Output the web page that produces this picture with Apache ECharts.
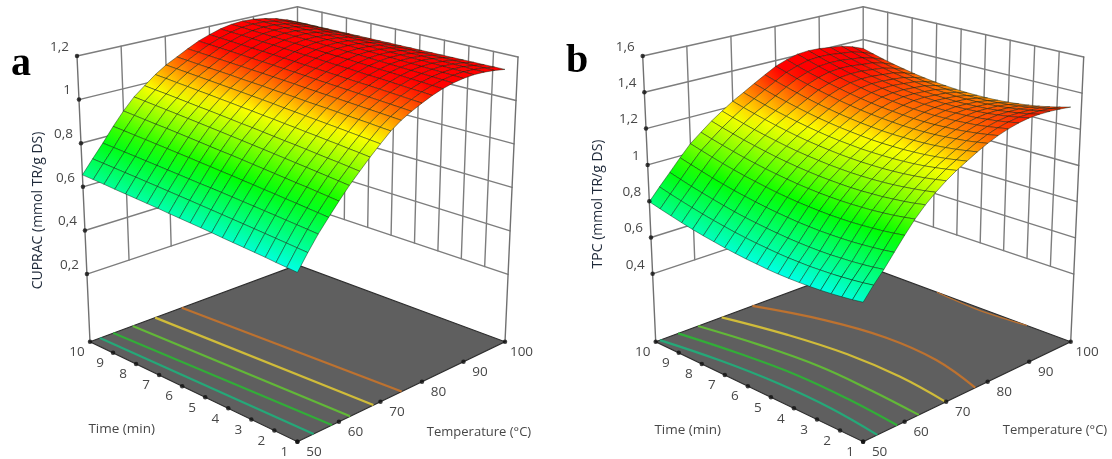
<!DOCTYPE html>
<html><head><meta charset="utf-8">
<style>html,body{margin:0;padding:0;background:#fff}#c{width:1112px;height:459px}</style>
<script src="https://cdn.jsdelivr.net/npm/echarts@6/dist/echarts.min.js"></script>
</head><body><div id="c"></div>
<script>
// ---------- data ----------
const meshTemps = [50,52.5,55,57.5,60,62.5,65,67.5,70,72.5,75,77.5,80,82.5,85,87.5,90,92.5,95,97.5,100];
const meshTimes = [1,1.45,1.9,2.35,2.8,3.25,3.7,4.15,4.6,5.05,5.5,5.95,6.4,6.85,7.3,7.75,8.2,8.65,9.1,9.55,10];
// one list per temperature, each running over meshTimes
const cupracByTemp = [
[.571,.575,.579,.584,.588,.592,.596,.600,.605,.609,.613,.617,.621,.626,.630,.634,.638,.642,.647,.651,.655],
[.635,.639,.643,.647,.651,.655,.659,.663,.667,.671,.675,.679,.683,.687,.691,.695,.699,.703,.707,.711,.715],
[.695,.699,.703,.707,.711,.715,.719,.723,.727,.731,.735,.738,.742,.746,.750,.754,.758,.762,.766,.770,.774],
[.748,.753,.757,.762,.766,.771,.775,.780,.784,.789,.793,.798,.802,.807,.811,.816,.820,.825,.829,.834,.838],
[.800,.805,.810,.815,.819,.824,.829,.834,.839,.844,.849,.853,.858,.863,.868,.873,.878,.882,.887,.892,.897],
[.850,.855,.860,.865,.870,.875,.880,.885,.890,.895,.900,.905,.910,.915,.920,.925,.930,.935,.940,.945,.950],
[.895,.900,.905,.909,.914,.919,.924,.928,.933,.938,.943,.947,.952,.957,.962,.966,.971,.976,.981,.985,.990],
[.940,.945,.949,.954,.958,.963,.967,.972,.976,.981,.985,.990,.994,.999,1.003,1.008,1.012,1.017,1.021,1.026,1.030],
[.982,.986,.990,.994,.998,1.002,1.006,1.010,1.014,1.018,1.023,1.027,1.031,1.035,1.039,1.043,1.047,1.051,1.055,1.059,1.063],
[1.023,1.026,1.030,1.033,1.036,1.040,1.043,1.046,1.049,1.053,1.056,1.059,1.063,1.066,1.069,1.073,1.076,1.079,1.082,1.086,1.089],
[1.055,1.058,1.061,1.064,1.067,1.070,1.073,1.076,1.079,1.082,1.086,1.089,1.092,1.095,1.098,1.101,1.104,1.107,1.110,1.113,1.116],
[1.080,1.083,1.086,1.089,1.092,1.095,1.098,1.101,1.104,1.107,1.111,1.114,1.117,1.120,1.123,1.126,1.129,1.132,1.135,1.138,1.141],
[1.102,1.105,1.108,1.111,1.114,1.117,1.119,1.122,1.125,1.128,1.131,1.134,1.137,1.140,1.143,1.146,1.148,1.151,1.154,1.157,1.160],
[1.122,1.125,1.127,1.130,1.133,1.136,1.138,1.141,1.144,1.146,1.149,1.152,1.154,1.157,1.160,1.163,1.165,1.168,1.171,1.173,1.176],
[1.138,1.140,1.143,1.145,1.148,1.150,1.152,1.155,1.157,1.160,1.162,1.164,1.167,1.169,1.172,1.174,1.176,1.179,1.181,1.184,1.186],
[1.150,1.152,1.154,1.156,1.158,1.160,1.162,1.164,1.166,1.168,1.170,1.172,1.174,1.176,1.178,1.180,1.182,1.184,1.186,1.188,1.190],
[1.157,1.159,1.160,1.162,1.163,1.165,1.166,1.168,1.169,1.171,1.172,1.174,1.175,1.177,1.178,1.180,1.181,1.183,1.184,1.186,1.187],
[1.160,1.161,1.162,1.163,1.164,1.165,1.165,1.166,1.167,1.168,1.169,1.170,1.171,1.172,1.173,1.174,1.174,1.175,1.176,1.177,1.178],
[1.158,1.158,1.159,1.159,1.159,1.160,1.160,1.160,1.161,1.161,1.162,1.162,1.162,1.163,1.163,1.163,1.164,1.164,1.164,1.165,1.165],
[1.152,1.152,1.151,1.151,1.151,1.151,1.150,1.150,1.150,1.149,1.149,1.149,1.148,1.148,1.148,1.148,1.147,1.147,1.147,1.146,1.146],
[1.143,1.142,1.141,1.140,1.139,1.138,1.137,1.136,1.135,1.134,1.133,1.132,1.131,1.130,1.129,1.128,1.127,1.126,1.125,1.124,1.123]
];
const tpcByTemp = [
[.700,.692,.686,.681,.677,.675,.674,.674,.675,.678,.683,.688,.695,.703,.713,.723,.735,.749,.764,.780,.797],
[.763,.755,.749,.744,.740,.738,.736,.737,.738,.741,.746,.751,.758,.766,.776,.787,.799,.813,.828,.844,.862],
[.820,.812,.806,.801,.798,.795,.794,.795,.797,.800,.805,.811,.818,.826,.836,.848,.861,.875,.890,.907,.925],
[.885,.877,.871,.866,.862,.860,.859,.859,.861,.864,.869,.875,.882,.891,.901,.912,.925,.939,.955,.972,.990],
[.950,.942,.935,.930,.926,.923,.922,.922,.924,.927,.931,.937,.944,.953,.963,.974,.987,1.001,1.017,1.034,1.052],
[1.012,1.003,.995,.989,.984,.981,.979,.978,.979,.981,.985,.990,.997,1.005,1.014,1.025,1.037,1.051,1.066,1.082,1.100],
[1.065,1.055,1.047,1.041,1.035,1.032,1.029,1.028,1.029,1.031,1.034,1.039,1.045,1.053,1.062,1.073,1.085,1.098,1.113,1.129,1.147],
[1.110,1.100,1.092,1.085,1.079,1.075,1.072,1.071,1.071,1.073,1.076,1.081,1.087,1.094,1.103,1.114,1.126,1.139,1.154,1.170,1.188],
[1.150,1.140,1.131,1.124,1.118,1.114,1.111,1.110,1.110,1.112,1.115,1.120,1.126,1.133,1.142,1.153,1.165,1.179,1.194,1.210,1.228],
[1.185,1.175,1.166,1.158,1.152,1.148,1.145,1.144,1.144,1.145,1.149,1.153,1.159,1.167,1.176,1.187,1.199,1.212,1.227,1.244,1.262],
[1.215,1.205,1.196,1.189,1.183,1.179,1.176,1.175,1.175,1.177,1.181,1.186,1.192,1.200,1.209,1.220,1.233,1.247,1.262,1.280,1.298],
[1.245,1.235,1.226,1.219,1.213,1.209,1.207,1.206,1.206,1.208,1.212,1.217,1.224,1.232,1.242,1.253,1.266,1.281,1.297,1.314,1.333],
[1.272,1.262,1.253,1.247,1.241,1.237,1.235,1.234,1.235,1.238,1.242,1.247,1.254,1.263,1.273,1.285,1.298,1.313,1.329,1.348,1.367],
[1.295,1.285,1.276,1.269,1.263,1.260,1.257,1.256,1.257,1.260,1.264,1.269,1.276,1.285,1.295,1.307,1.320,1.336,1.352,1.370,1.390],
[1.313,1.303,1.294,1.286,1.281,1.277,1.274,1.273,1.274,1.276,1.280,1.286,1.293,1.301,1.312,1.324,1.337,1.352,1.369,1.387,1.407],
[1.327,1.316,1.306,1.299,1.292,1.288,1.285,1.283,1.283,1.285,1.289,1.294,1.300,1.309,1.319,1.330,1.343,1.358,1.374,1.392,1.412],
[1.336,1.324,1.314,1.305,1.298,1.293,1.289,1.287,1.287,1.288,1.291,1.295,1.301,1.309,1.318,1.329,1.342,1.356,1.372,1.390,1.409],
[1.338,1.325,1.314,1.305,1.297,1.291,1.287,1.284,1.283,1.284,1.286,1.290,1.296,1.303,1.312,1.322,1.335,1.348,1.364,1.381,1.400],
[1.336,1.323,1.311,1.302,1.293,1.287,1.282,1.279,1.278,1.278,1.280,1.284,1.289,1.296,1.305,1.315,1.327,1.341,1.356,1.373,1.392],
[1.331,1.317,1.305,1.294,1.285,1.278,1.272,1.268,1.266,1.265,1.267,1.269,1.274,1.280,1.288,1.298,1.309,1.323,1.337,1.354,1.372],
[1.323,1.308,1.294,1.282,1.272,1.264,1.257,1.252,1.249,1.248,1.248,1.250,1.254,1.259,1.266,1.275,1.286,1.298,1.312,1.328,1.345]
];
const timeTicks = [10,9,8,7,6,5,4,3,2,1];
const tempTicks = [50,60,70,80,90,100];
const cupracTicks = [0.2,0.4,0.6,0.8,1,1.2];
const tpcTicks = [0.4,0.6,0.8,1,1.2,1.4,1.6];
// floor contours: [time, temperature]
const contourTimes = [1,3.25,5.5,7.75,10];
const cupracContourTemps = [[53.9,52.4],[58.3,55.6],[62.7,60.3],[68.3,65.7],[75.1,72.1]];
const tpcContourTemps = [
  [53.4,54.6,54.6,53.4,51],
  [58.2,59.1,59.2,57.8,55.4],
  [63.4,64.2,64.4,62.9,60.2],
  [69.9,71.3,71.2,69.3,65.9],
  [77,80.1,80.55,78.2,73.3]
];
const tpcRearContour = [[2.9,100],[4,99.5],[5,99.3],[6,99.6],[6.8,100]];
const contourColors = ['#25a878','#32ad38','#62b838','#d0bc3a','#bd7230'];
const surfaceStops = ['#00ffe6','#00ff00','#ffff00','#ff0000'];
const surfaceStopAt = [0,0.35,0.68,0.92];

// ---------- layout ----------
const anchors = { // pixel anchors of the box corners: [bottom, top]
  t1T50:[[297.4,441.7],[297.5,116]], t1T100:[[505,341.7],[518,57]],
  t10T50:[[90,341.7],[77,56]],       t10T100:[[297.5,265],[297.5,6.7]]
};
const panels = [
 {dx:0, zMin:-0.11, zMax:1.2, zTicks:cupracTicks, table:cupracByTemp, contours:cupracContourTemps.map(r=>[[1,r[0]],[10,r[1]]]), rear:null,
  yTitle:'CUPRAC (mmol TR/g DS)', yTitlePos:[38,210.5], tPos:[121.7,429.5], TPos:[479,432], letter:'a', letterPos:[21,65]},
 {dx:565.7, zMin:0.026, zMax:1.6, zTicks:tpcTicks, table:tpcByTemp, contours:tpcContourTemps.map(r=>r.map((T,i)=>[contourTimes[i],T])), rear:tpcRearContour,
  yTitle:'TPC (mmol TR/g DS)', yTitlePos:[598,204], tPos:[687.7,430], TPos:[1055,430], letter:'b', letterPos:[577,62]}
];
function mix(a,b,f){return [a[0]+(b[0]-a[0])*f,a[1]+(b[1]-a[1])*f];}
function project(p,t,T,z,forSurface){
  const u=(T-50)/50,v=(t-1)/9,w=(z-p.zMin)/(p.zMax-p.zMin);
  const right = forSurface ? [anchors.t1T100[0],[505,57]] : anchors.t1T100;
  const a=mix(anchors.t1T50[0],anchors.t1T50[1],w), b=mix(right[0],right[1],w),
        c=mix(anchors.t10T50[0],anchors.t10T50[1],w), d=mix(anchors.t10T100[0],anchors.t10T100[1],w);
  const q=mix(mix(a,b,u),mix(c,d,u),v);
  return [q[0]+p.dx,q[1]];
}
function surfaceColor(f){
  f=Math.max(0,Math.min(1,f));
  let k=0;
  while(k<surfaceStopAt.length-2 && f>surfaceStopAt[k+1]) k++;
  const g=Math.min(1,(f-surfaceStopAt[k])/(surfaceStopAt[k+1]-surfaceStopAt[k]));
  return echarts.color.lerp(g,[surfaceStops[k],surfaceStops[k+1]]);
}
const FONT='"Open Sans"';
// ---------- series builders ----------
function segSeries(name,segs,z){
  return {name,type:'custom',coordinateSystem:'cartesian2d',silent:true,z,animation:false,
    data:segs.map((s,i)=>[s[0][0],s[0][1],i]),
    renderItem:(params,api)=>{const s=segs[params.dataIndex];
      const a=api.coord(s[0]),b=api.coord(s[1]);
      return {type:'line',shape:{x1:a[0],y1:a[1],x2:b[0],y2:b[1]},style:{stroke:s[2],lineWidth:s[3],lineCap:'round'}};}
  };
}
function buildPanel(p,k){
  const out=[]; const zLow=p.zTicks[0], zTop=p.zTicks[p.zTicks.length-1];
  const GRID='#7d7d7d', segs=[];
  // walls
  p.zTicks.forEach(z=>{
    segs.push([project(p,10,50,z),project(p,10,100,z),GRID,1.4]);
    segs.push([project(p,10,100,z),project(p,1,100,z),GRID,1.4]);
  });
  tempTicks.slice(1,-1).forEach(T=>segs.push([project(p,10,T,zLow),project(p,10,T,zTop),GRID,1.4]));
  timeTicks.slice(1,-1).forEach(t=>segs.push([project(p,t,100,zLow),project(p,t,100,zTop),GRID,1.4]));
  segs.push([project(p,10,100,zLow),project(p,10,100,zTop),GRID,1.4]);
  segs.push([project(p,10,50,p.zMin),project(p,10,50,zTop),'#707070',1.4]);
  segs.push([project(p,1,100,p.zMin),project(p,1,100,zTop),'#707070',1.4]);
  out.push(segSeries('walls'+k,segs,1));
  // floor
  const floor=[[1,50],[1,100],[10,100],[10,50]].map(c=>project(p,c[0],c[1],p.zMin));
  out.push({name:'floor'+k,type:'custom',coordinateSystem:'cartesian2d',silent:true,z:2,animation:false,
    data:[floor[0]],
    renderItem:(params,api)=>({type:'polygon',shape:{points:floor.map(q=>api.coord(q))},
      style:{fill:'#5f5f5f',stroke:'#2e2e2e',lineWidth:1.2}})});
  // contours
  const lines=p.contours.map((c,i)=>({pts:c,color:contourColors[i],w:2.2}));
  if(p.rear) lines.push({pts:p.rear,color:contourColors[4],w:1.2});
  lines.forEach((l,i)=>{
    const pts=l.pts.map(q=>project(p,q[0],q[1],p.zMin));
    out.push({name:'contour'+k+i,type:'custom',coordinateSystem:'cartesian2d',silent:true,z:3,animation:false,
      data:[pts[0]],
      renderItem:(params,api)=>({type:'polyline',shape:{points:pts.map(q=>api.coord(q)),smooth:pts.length>2?0.4:0},
        style:{stroke:l.color,lineWidth:l.w,fill:null}})});
  });
  // surface (back to front)
  const flat=p.table.flat(), sMin=Math.min(...flat), sMax=Math.max(...flat);
  const cells=[];
  for(let j=meshTemps.length-2;j>=0;j--) for(let i=meshTimes.length-2;i>=0;i--) cells.push([j,i]);
  out.push({name:'surface'+k,type:'custom',coordinateSystem:'cartesian2d',silent:true,z:4,animation:false,
    data:cells,
    renderItem:(params,api)=>{
      const [j,i]=cells[params.dataIndex], t=p.table;
      const corners=[[j,i],[j+1,i],[j+1,i+1],[j,i+1]];
      const pts=corners.map(c=>api.coord(project(p,meshTimes[c[1]],meshTemps[c[0]],t[c[0]][c[1]],true)));
      const lowZ=(t[j][i]+t[j][i+1])/2, highZ=(t[j+1][i]+t[j+1][i+1])/2;
      const lowP=[(pts[0][0]+pts[3][0])/2,(pts[0][1]+pts[3][1])/2], highP=[(pts[1][0]+pts[2][0])/2,(pts[1][1]+pts[2][1])/2];
      const cf=z=>surfaceColor((z-sMin)/(sMax-sMin));
      return {type:'polygon',shape:{points:pts},
        style:{fill:{type:'linear',global:true,x:lowP[0],y:lowP[1],x2:highP[0],y2:highP[1],
                     colorStops:[{offset:0,color:cf(lowZ)},{offset:1,color:cf(highZ)}]},
               stroke:'rgba(10,30,10,0.5)',lineWidth:0.9,lineJoin:'round'}};
    }});
  // tick dots and labels
  const dots=[], labels=[];
  const fmt=v=>String(v).replace('.',',');
  p.zTicks.forEach(z=>{const q=project(p,10,50,z);dots.push(q);labels.push({pos:[q[0]-8,q[1]-9],text:fmt(z),align:'right'});});
  timeTicks.forEach(t=>{const q=project(p,t,50,p.zMin);dots.push(q);labels.push({pos:[q[0]-13,q[1]+10.5],text:String(t),align:'center'});});
  tempTicks.forEach(T=>{const q=project(p,1,T,p.zMin);dots.push(q);labels.push({pos:[q[0]+16.5,q[1]+10.5],text:String(T),align:'center'});});
  out.push({name:'tickDots'+k,type:'scatter',coordinateSystem:'cartesian2d',silent:true,z:5,animation:false,
    symbolSize:4.5,itemStyle:{color:'#111'},data:dots});
  labels.push({pos:p.tPos,text:'Time (min)',align:'center'});
  labels.push({pos:p.TPos,text:'Temperature (°C)',align:'center',font:'13px '+FONT});
  labels.push({pos:p.yTitlePos,text:p.yTitle,align:'center',rotation:Math.PI/2,color:'#1f2a3a',font:'14px '+FONT});
  labels.push({pos:p.letterPos,text:p.letter,align:'center',font:'bold 40px "Liberation Serif"',color:'#000'});
  out.push({name:'labels'+k,type:'custom',coordinateSystem:'cartesian2d',silent:true,z:6,animation:false,
    data:labels.map(l=>l.pos),
    renderItem:(params,api)=>{const l=labels[params.dataIndex],c=api.coord(l.pos);
      return {type:'text',x:c[0],y:c[1],rotation:l.rotation||0,
        style:{text:l.text,font:l.font||('13.5px '+FONT),fill:l.color||'#474747',align:l.align,verticalAlign:'middle'}};}
  });
  return out;
}
const chart=echarts.init(document.getElementById('c'));
chart.setOption({
  animation:false,backgroundColor:'#fff',
  grid:{left:0,right:0,top:0,bottom:0},
  xAxis:{type:'value',min:0,max:1112,show:false},
  yAxis:{type:'value',min:0,max:459,inverse:true,show:false},
  series:panels.flatMap(buildPanel)
});
</script></body></html>
